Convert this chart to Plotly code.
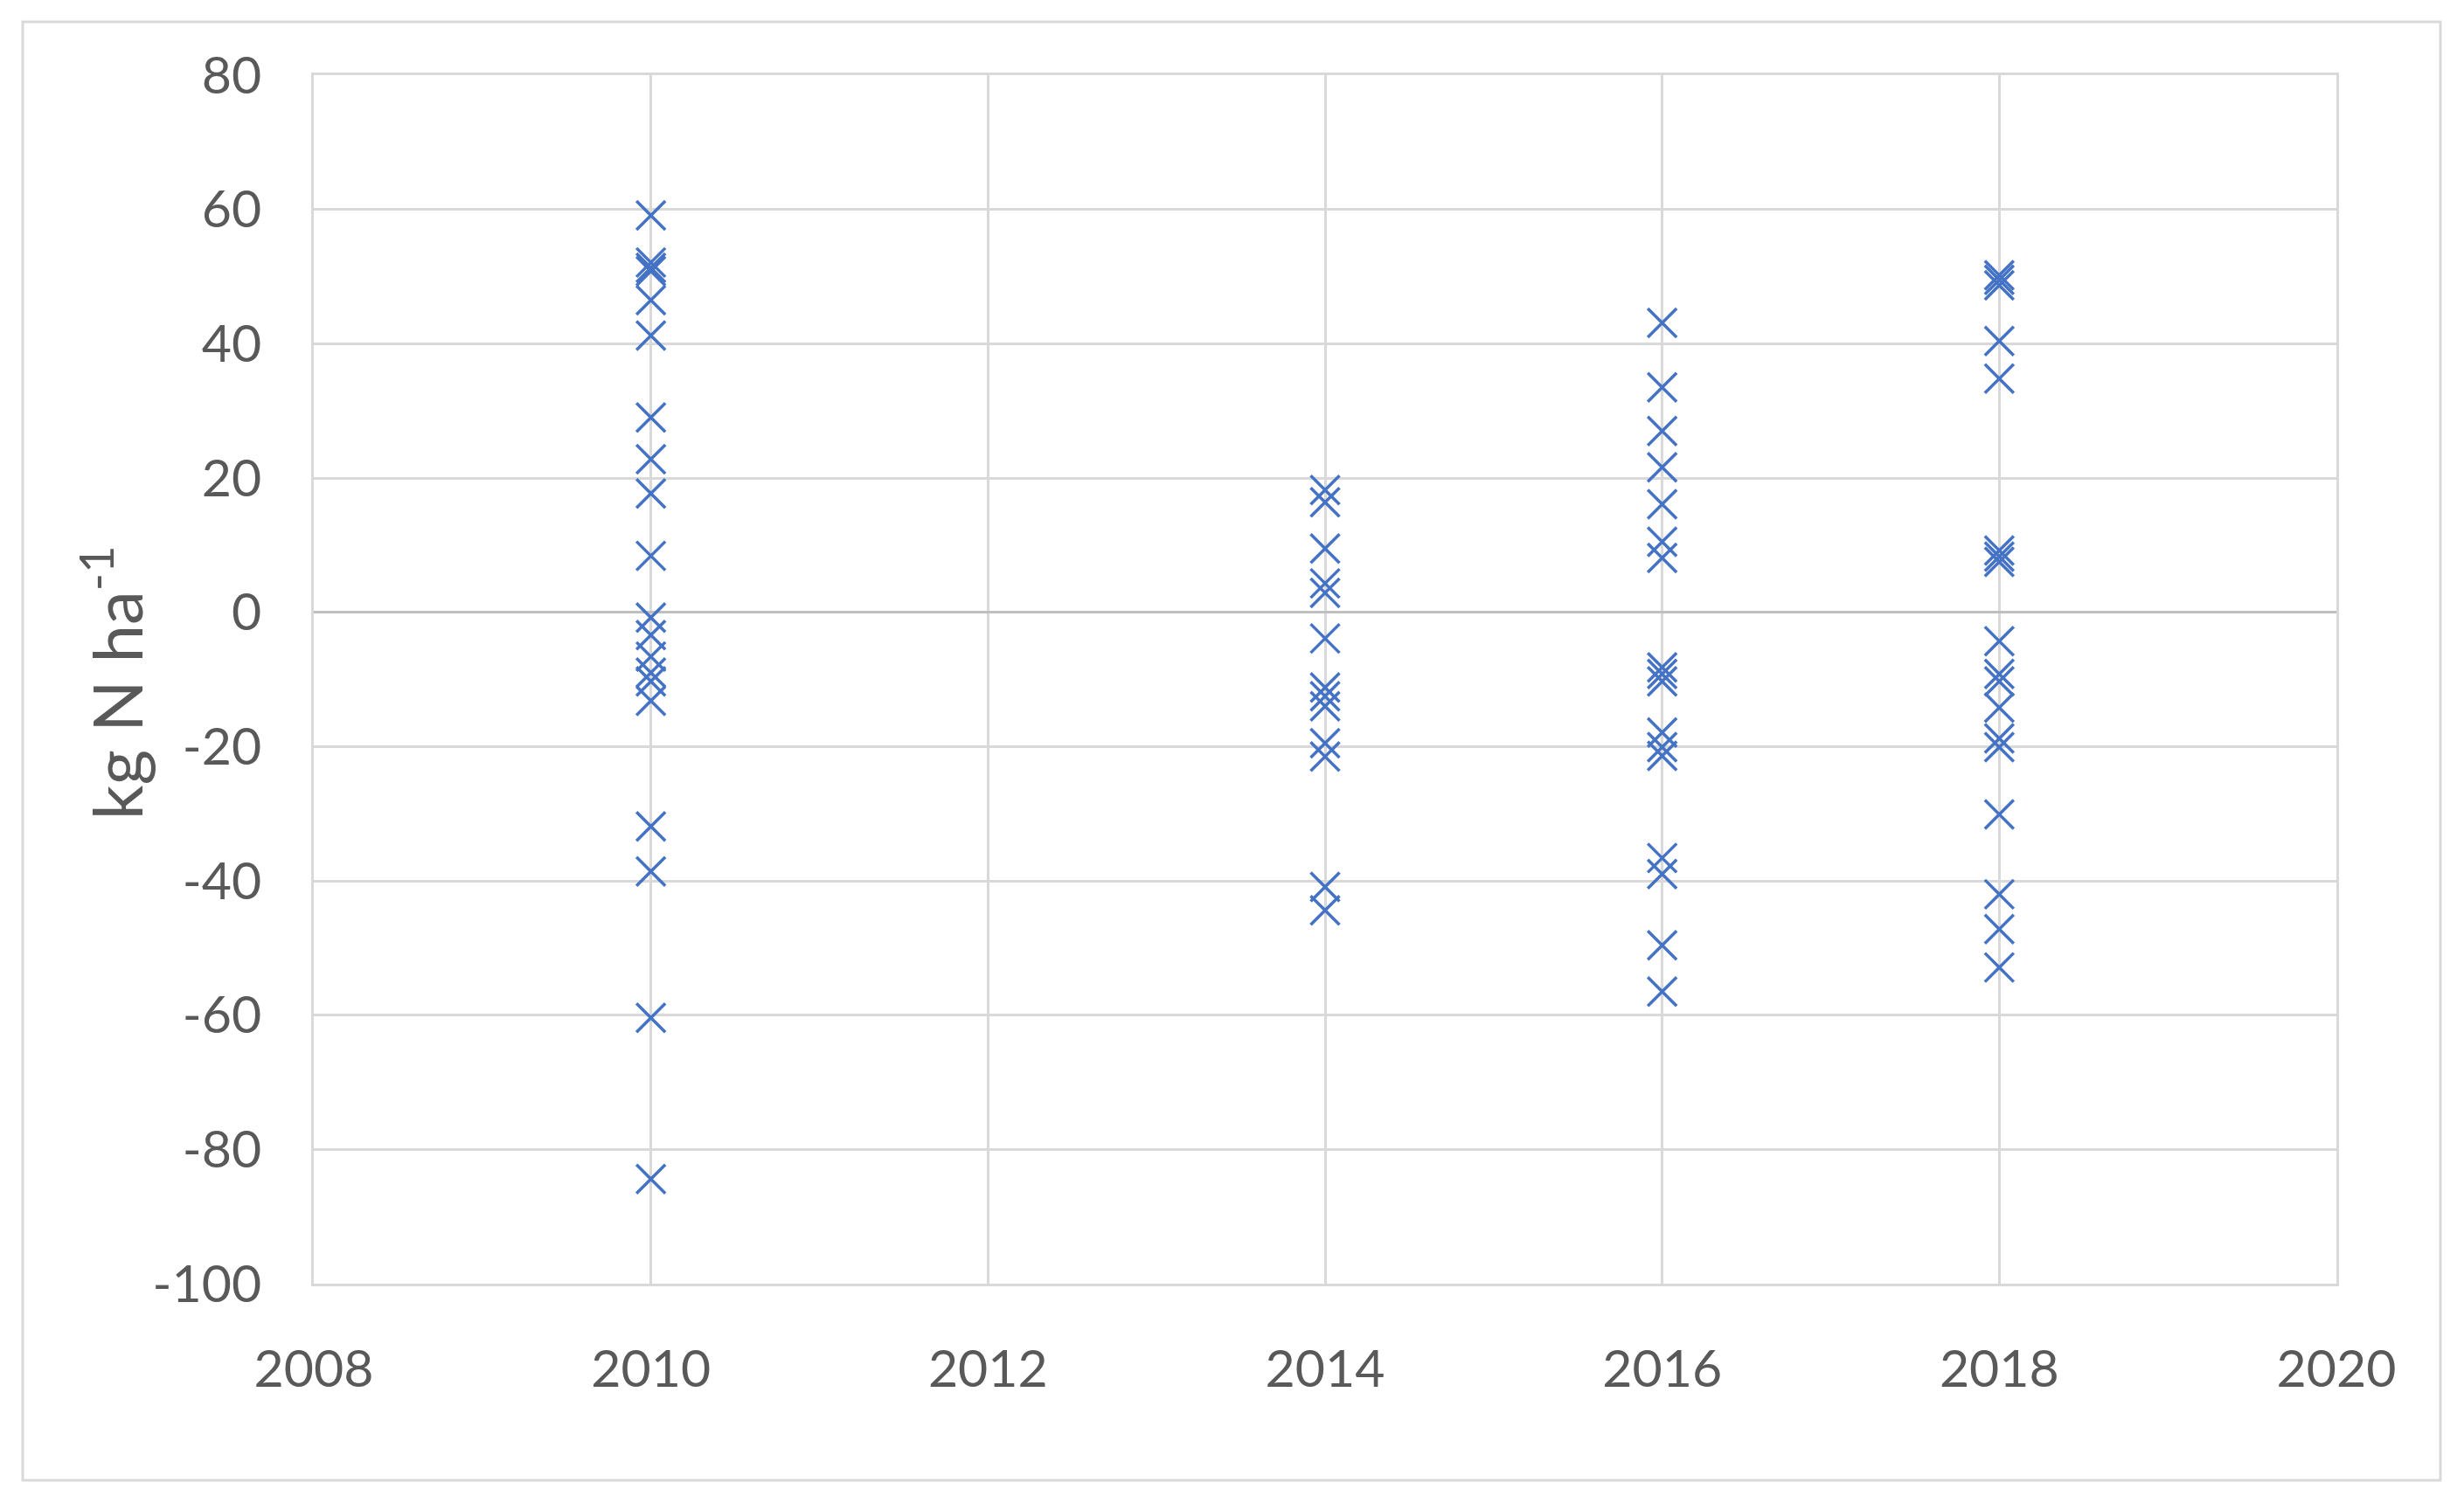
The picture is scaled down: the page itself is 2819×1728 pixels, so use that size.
import plotly.graph_objects as go

# values, kg N ha-1, one list per year
vals_2010 = [59.1, 52.1, 51.3, 50.8, 46.5, 41.2, 29.0, 22.8, 17.7, 8.4,
             -0.8, -3.4, -6.6, -9.0, -10.3, -13.2, -31.9, -38.6, -60.4, -84.4]
vals_2014 = [18.2, 16.4, 9.5, 4.3, 2.9, -3.9, -11.2, -12.5, -14.0, -19.5,
             -21.5, -40.9, -44.4]
vals_2016 = [43.1, 33.5, 27.0, 21.6, 16.1, 10.5, 8.1, -8.2, -9.2, -10.3,
             -17.9, -20.1, -21.4, -36.6, -39.0, -49.6, -56.5]
vals_2018 = [50.2, 49.5, 48.7, 40.4, 34.8, 9.2, 8.3, 7.5, -4.3, -9.2, -10.3,
             -14.2, -18.8, -20.1, -30.1, -42.0, -47.2, -52.9]

years = [2010, 2014, 2016, 2018]
all_vals = [vals_2010, vals_2014, vals_2016, vals_2018]

x_tick_vals = [2008, 2010, 2012, 2014, 2016, 2018, 2020]
y_tick_vals = [80, 60, 40, 20, 0, -20, -40, -60, -80, -100]
y_tick_text = ["80", "60", "40", "20", "0", "-20", "-40", "-60", "-80", "-100"]

xs = []
ys = []
for yr, vv in zip(years, all_vals):
    xs += [yr] * len(vv)
    ys += vv

grid_col = "#d9d9d9"
text_col = "#595959"
font_fam = "Lato, 'Open Sans', sans-serif"

fig = go.Figure()
fig.add_trace(go.Scatter(
    x=xs, y=ys, mode="markers",
    marker=dict(symbol="x-thin-open", size=33, color="#4472c4",
                line=dict(color="#4472c4", width=3.5)),
    showlegend=False,
))

# page body has an 8px margin, so the plot box is set 8px up/left
fig.update_layout(
    width=2819, height=1728,
    margin=dict(l=351, r=154, t=78, b=267),
    paper_bgcolor="white", plot_bgcolor="white",
    font=dict(family=font_fam, color=text_col, size=56),
)
fig.update_xaxes(
    range=[2008, 2020], tickvals=x_tick_vals, showgrid=True,
    gridcolor=grid_col, gridwidth=3, zeroline=False,
    showline=True, linecolor=grid_col, linewidth=3, mirror=True,
    ticks="", ticklabelstandoff=44, tickfont=dict(size=59, color=text_col),
)
fig.update_yaxes(
    range=[-100, 80], tickvals=y_tick_vals, ticktext=y_tick_text, showgrid=True,
    gridcolor=grid_col, gridwidth=3, zeroline=True, zerolinecolor="#bfbfbf",
    zerolinewidth=3, showline=True, linecolor=grid_col, linewidth=3, mirror=True,
    ticks="", ticklabelstandoff=45, tickfont=dict(size=59, color=text_col),
)

# y axis title
fig.add_annotation(
    text="kg N ha<sup>-1</sup>", xref="paper", yref="paper",
    x=-0.1, y=0.497, xanchor="center", yanchor="middle",
    showarrow=False, textangle=-90,
    font=dict(size=78, color=text_col, family=font_fam),
)

# light outer frame of the chart
fig.add_shape(type="rect", xref="paper", yref="paper",
              x0=(26 - 359) / 2314, x1=(2792 - 359) / 2314,
              y0=(1469 - 1694) / 1383, y1=(1469 - 25) / 1383,
              line=dict(color=grid_col, width=3), layer="below")

fig.write_html("out.html")
